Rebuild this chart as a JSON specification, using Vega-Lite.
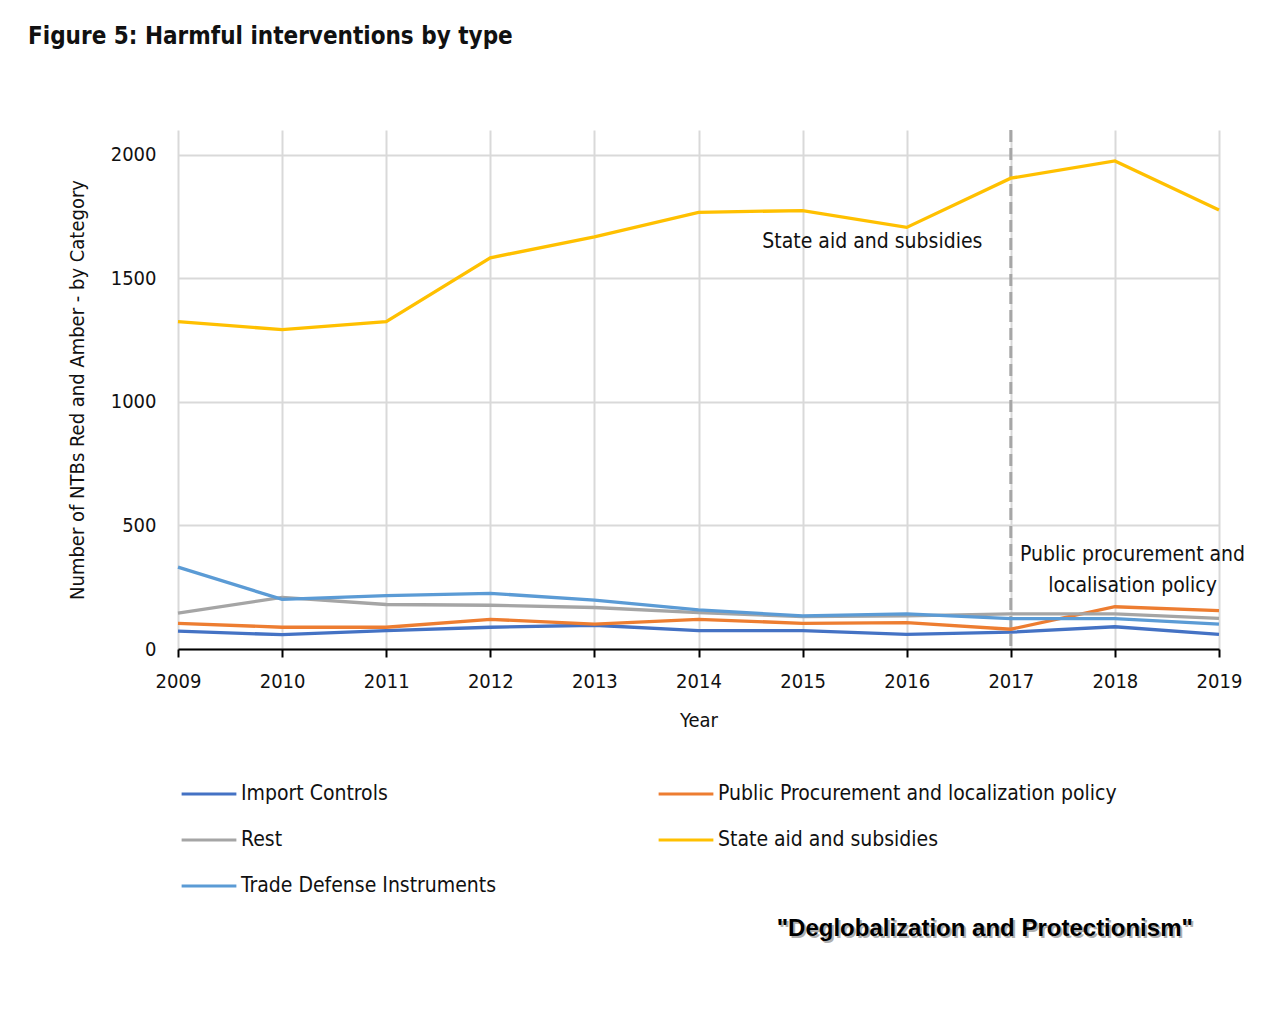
{
  "$schema": "https://vega.github.io/schema/vega-lite/v6.json",
  "width": 1041,
  "height": 519,
  "autosize": {"type": "none"},
  "padding": {"left": 178, "top": 130, "right": 61, "bottom": 387},
  "background": "white",
  "config": {
    "font": "DejaVu Sans Condensed, Liberation Sans Narrow, Roboto, sans-serif",
    "view": {"stroke": null}
  },
  "title": {
    "text": "Figure 5: Harmful interventions by type",
    "anchor": "start",
    "frame": "group",
    "dx": -150,
    "offset": 80,
    "fontSize": 24,
    "fontWeight": "bold",
    "color": "#111111",
    "font": "DejaVu Sans Condensed, Liberation Sans Narrow, Roboto, sans-serif"
  },
  "datasets": {
    "series": [
      {"year": 2009, "category": "Import Controls", "value": 72},
      {"year": 2010, "category": "Import Controls", "value": 58},
      {"year": 2011, "category": "Import Controls", "value": 74},
      {"year": 2012, "category": "Import Controls", "value": 88},
      {"year": 2013, "category": "Import Controls", "value": 96},
      {"year": 2014, "category": "Import Controls", "value": 74},
      {"year": 2015, "category": "Import Controls", "value": 74},
      {"year": 2016, "category": "Import Controls", "value": 59},
      {"year": 2017, "category": "Import Controls", "value": 68},
      {"year": 2018, "category": "Import Controls", "value": 90},
      {"year": 2019, "category": "Import Controls", "value": 59},
      {"year": 2009, "category": "Public Procurement and localization policy", "value": 104},
      {"year": 2010, "category": "Public Procurement and localization policy", "value": 88},
      {"year": 2011, "category": "Public Procurement and localization policy", "value": 88},
      {"year": 2012, "category": "Public Procurement and localization policy", "value": 120},
      {"year": 2013, "category": "Public Procurement and localization policy", "value": 101},
      {"year": 2014, "category": "Public Procurement and localization policy", "value": 120},
      {"year": 2015, "category": "Public Procurement and localization policy", "value": 104},
      {"year": 2016, "category": "Public Procurement and localization policy", "value": 107},
      {"year": 2017, "category": "Public Procurement and localization policy", "value": 80},
      {"year": 2018, "category": "Public Procurement and localization policy", "value": 171},
      {"year": 2019, "category": "Public Procurement and localization policy", "value": 155},
      {"year": 2009, "category": "Rest", "value": 145},
      {"year": 2010, "category": "Rest", "value": 209},
      {"year": 2011, "category": "Rest", "value": 180},
      {"year": 2012, "category": "Rest", "value": 177},
      {"year": 2013, "category": "Rest", "value": 168},
      {"year": 2014, "category": "Rest", "value": 147},
      {"year": 2015, "category": "Rest", "value": 131},
      {"year": 2016, "category": "Rest", "value": 134},
      {"year": 2017, "category": "Rest", "value": 142},
      {"year": 2018, "category": "Rest", "value": 142},
      {"year": 2019, "category": "Rest", "value": 124},
      {"year": 2009, "category": "State aid and subsidies", "value": 1325},
      {"year": 2010, "category": "State aid and subsidies", "value": 1292},
      {"year": 2011, "category": "State aid and subsidies", "value": 1325},
      {"year": 2012, "category": "State aid and subsidies", "value": 1583},
      {"year": 2013, "category": "State aid and subsidies", "value": 1668},
      {"year": 2014, "category": "State aid and subsidies", "value": 1767},
      {"year": 2015, "category": "State aid and subsidies", "value": 1774},
      {"year": 2016, "category": "State aid and subsidies", "value": 1706},
      {"year": 2017, "category": "State aid and subsidies", "value": 1905},
      {"year": 2018, "category": "State aid and subsidies", "value": 1975},
      {"year": 2019, "category": "State aid and subsidies", "value": 1776},
      {"year": 2009, "category": "Trade Defense Instruments", "value": 331},
      {"year": 2010, "category": "Trade Defense Instruments", "value": 201},
      {"year": 2011, "category": "Trade Defense Instruments", "value": 216},
      {"year": 2012, "category": "Trade Defense Instruments", "value": 225},
      {"year": 2013, "category": "Trade Defense Instruments", "value": 198},
      {"year": 2014, "category": "Trade Defense Instruments", "value": 158},
      {"year": 2015, "category": "Trade Defense Instruments", "value": 134},
      {"year": 2016, "category": "Trade Defense Instruments", "value": 142},
      {"year": 2017, "category": "Trade Defense Instruments", "value": 123},
      {"year": 2018, "category": "Trade Defense Instruments", "value": 123},
      {"year": 2019, "category": "Trade Defense Instruments", "value": 101}
    ],
    "notes": [
      {"year": 2015.67, "value": 1645, "label": "State aid and subsidies"},
      {"year": 2018.17, "value": 381, "label": "Public procurement and"},
      {"year": 2018.17, "value": 255, "label": "localisation policy"}
    ],
    "marker": [{"year": 2017}],
    "source": [{"year": 2016.75, "value": -1134, "label": "\"Deglobalization and Protectionism\""}]
  },
  "layer": [
    {
      "data": {"name": "marker"},
      "mark": {"type": "rule", "color": "#a6a6a6", "strokeWidth": 3, "strokeDash": [12, 6]},
      "encoding": {
        "x": {"field": "year", "type": "quantitative"}
      }
    },
    {
      "data": {"name": "series"},
      "mark": {"type": "line", "strokeWidth": 3.3},
      "encoding": {
        "x": {
          "field": "year",
          "type": "quantitative",
          "scale": {"domain": [2009, 2019], "nice": false, "zero": false},
          "axis": {
            "title": "Year",
            "values": [2009, 2010, 2011, 2012, 2013, 2014, 2015, 2016, 2017, 2018, 2019],
            "format": "d",
            "labelFlush": false,
            "labelFontSize": 20,
            "labelColor": "#111111",
            "labelPadding": 14,
            "titleFontSize": 20,
            "titleFontWeight": "normal",
            "titleColor": "#111111",
            "titlePadding": 19,
            "domainColor": "#000000",
            "domainWidth": 2,
            "tickColor": "#000000",
            "tickWidth": 2,
            "tickSize": 8,
            "gridColor": "#d9d9d9",
            "gridWidth": 2
          }
        },
        "y": {
          "field": "value",
          "type": "quantitative",
          "scale": {"domain": [0, 2100], "nice": false},
          "axis": {
            "title": "Number of NTBs Red and Amber - by Category",
            "values": [0, 500, 1000, 1500, 2000],
            "format": "d",
            "domain": false,
            "ticks": false,
            "labelFontSize": 20,
            "labelColor": "#111111",
            "labelPadding": 22,
            "titleFontSize": 20,
            "titleFontWeight": "normal",
            "titleColor": "#111111",
            "titlePadding": 23,
            "gridColor": "#d9d9d9",
            "gridWidth": 2
          }
        },
        "color": {
          "field": "category",
          "type": "nominal",
          "scale": {
            "domain": ["Import Controls", "Public Procurement and localization policy", "Rest", "State aid and subsidies", "Trade Defense Instruments"],
            "range": ["#4472C4", "#ED7D31", "#A5A5A5", "#FFC000", "#5B9BD5"]
          },
          "legend": {
            "title": null,
            "orient": "none",
            "legendX": 2,
            "legendY": 635,
            "direction": "horizontal",
            "columns": 2,
            "columnPadding": 155,
            "rowPadding": 7,
            "symbolType": "stroke",
            "symbolSize": 3000,
            "symbolStrokeWidth": 3,
            "labelFontSize": 21,
            "labelColor": "#111111",
            "labelOffset": 3,
            "labelLimit": 500
          }
        }
      }
    },
    {
      "data": {"name": "notes"},
      "mark": {"type": "text", "fontSize": 21, "color": "#111111", "align": "center", "baseline": "middle"},
      "encoding": {
        "x": {"field": "year", "type": "quantitative"},
        "y": {"field": "value", "type": "quantitative"},
        "text": {"field": "label"}
      }
    },
    {
      "data": {"name": "source"},
      "mark": {"type": "text", "fontSize": 24, "fontWeight": "bold", "font": "Liberation Sans, Arial, sans-serif", "color": "#b0b0b0", "align": "center", "baseline": "middle", "dx": 2, "dy": 2},
      "encoding": {
        "x": {"field": "year", "type": "quantitative"},
        "y": {"field": "value", "type": "quantitative"},
        "text": {"field": "label"}
      }
    },
    {
      "data": {"name": "source"},
      "mark": {"type": "text", "fontSize": 24, "fontWeight": "bold", "font": "Liberation Sans, Arial, sans-serif", "color": "#000000", "align": "center", "baseline": "middle"},
      "encoding": {
        "x": {"field": "year", "type": "quantitative"},
        "y": {"field": "value", "type": "quantitative"},
        "text": {"field": "label"}
      }
    }
  ]
}
